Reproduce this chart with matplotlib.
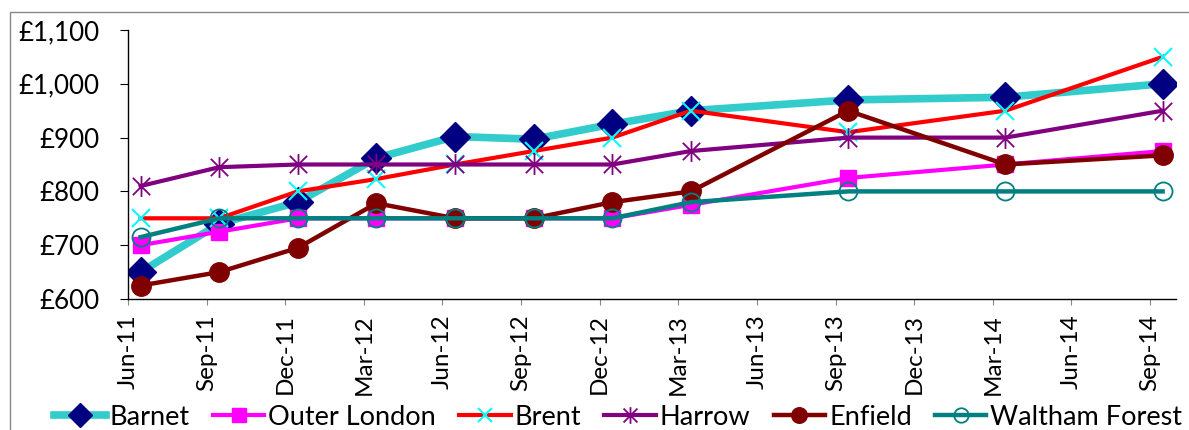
import matplotlib.pyplot as plt
from matplotlib.path import Path
from matplotlib.patches import Rectangle

plt.rcParams['font.family'] = ['Lato', 'DejaVu Sans']

# axis ticks (quarterly) and the dates that have data
ticks = ['Jun-11', 'Sep-11', 'Dec-11', 'Mar-12', 'Jun-12', 'Sep-12', 'Dec-12',
         'Mar-13', 'Jun-13', 'Sep-13', 'Dec-13', 'Mar-14', 'Jun-14', 'Sep-14']
dates = ['Jun-11', 'Sep-11', 'Dec-11', 'Mar-12', 'Jun-12', 'Sep-12', 'Dec-12',
         'Mar-13', 'Sep-13', 'Mar-14', 'Sep-14']

barnet = [650, 740, 780, 862, 902, 897, 925, 950, 970, 975, 1000]
outer_london = [700, 725, 750, 750, 750, 750, 750, 775, 825, 850, 875]
brent = [750, 750, 800, 823, 850, 875, 900, 950, 910, 950, 1050]
harrow = [810, 845, 850, 850, 850, 850, 850, 875, 900, 900, 950]
enfield = [625, 650, 695, 778, 750, 750, 780, 800, 950, 850, 867]
waltham = [715, 750, 750, 750, 750, 750, 750, 780, 800, 800, 800]

# data falls mid-month, a bit right of the month tick
x = [ticks.index(d) + 0.16 for d in dates]

star = Path([(-1, -1), (1, 1), (-1, 1), (1, -1), (0, -1.2), (0, 1.2)],
            [Path.MOVETO, Path.LINETO, Path.MOVETO, Path.LINETO, Path.MOVETO, Path.LINETO])

fig = plt.figure(figsize=(11.89, 4.30), dpi=100)
ax = fig.add_axes([128 / 1189, 1 - 299 / 430, (1176 - 128) / 1189, (299 - 30) / 430])

ax.plot(x, barnet, color='#33CCCC', lw=5.5, marker='D', ms=15,
        mfc='#000080', mec='#000080', label='Barnet')
ax.plot(x, outer_london, color='#FF00FF', lw=3, marker='s', ms=12,
        mfc='#FF00FF', mec='#FF00FF', label='Outer London')
ax.plot(x, brent, color='#FF0000', lw=3, marker='x', ms=13, mew=1.5,
        mec='#00FFFF', label='Brent')
ax.plot(x, harrow, color='#800080', lw=3, marker=star, ms=15, mew=1.3,
        mec='#800080', mfc='none', label='Harrow')
ax.plot(x, enfield, color='#800000', lw=3.2, marker='o', ms=14,
        mfc='#800000', mec='#800000', label='Enfield')
ax.plot(x, waltham, color='#008080', lw=3.2, marker='o', ms=13, mew=1.3,
        mfc='none', mec='#008080', label='Waltham Forest')

ax.set_xlim(0, 13.33)
ax.set_ylim(600, 1100)
ax.set_xticks(range(len(ticks)))
ax.set_xticklabels(ticks, rotation=90, fontsize=17.5)
ax.set_yticks([600, 700, 800, 900, 1000, 1100])
ax.set_yticklabels(['£600', '£700', '£800', '£900', '£1,000', '£1,100'], fontsize=18.7)
ax.tick_params(axis='y', length=5.5, width=0.8, pad=15)
ax.tick_params(axis='x', length=4, width=0.8, color='#888888', pad=7)
ax.spines['top'].set_visible(False)
ax.spines['right'].set_visible(False)
ax.spines['left'].set_linewidth(1)
ax.spines['bottom'].set_linewidth(1)

fig.legend(loc='center', bbox_to_anchor=(0.52, 0.03), ncol=6, frameon=False,
           fontsize=19.5, handlelength=1.9, handletextpad=0.15, columnspacing=0.85,
           markerscale=0.8, borderaxespad=0)

# outer chart border, cut by the image edges
fig.patches.append(Rectangle((10 / 1189, -0.5), 2, 1 - 12 / 430 + 0.5,
                             transform=fig.transFigure, fill=False,
                             edgecolor='#888888', lw=1))

fig.savefig('out.png', dpi=100)
